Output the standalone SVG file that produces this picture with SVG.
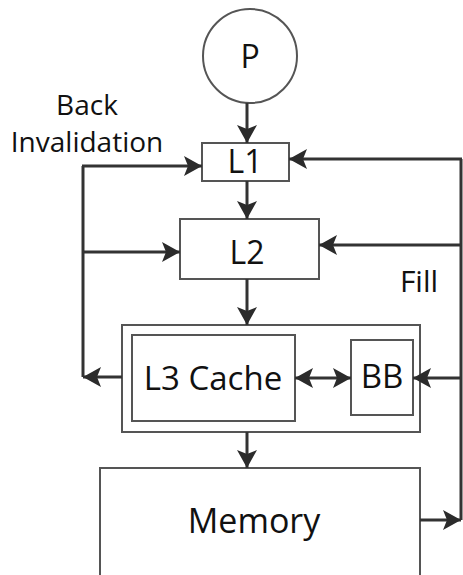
<svg xmlns="http://www.w3.org/2000/svg" width="463" height="575" viewBox="0 0 463 575">
<defs>
<marker id="ah" markerUnits="userSpaceOnUse" markerWidth="22" markerHeight="22" refX="18" refY="10" orient="auto-start-reverse">
<path d="M0,0 L18,10 L0,20 L4,10 z" fill="#2b2b2b"/>
</marker>
</defs>
<style>
.box{fill:#fff;stroke:#555;stroke-width:2}
.t{font-family:"Open Sans","Liberation Sans",sans-serif;fill:#111;text-anchor:middle}
.c{fill:none;stroke:#333;stroke-width:3}
.a{marker-end:url(#ah)}
</style>
<rect width="463" height="575" fill="#fff"/>
<g id="P"><circle class="box" cx="250" cy="56" r="47"/><text class="t" x="250" y="68" font-size="32">P</text></g>
<g id="L1"><rect class="box" x="202" y="143" width="87" height="38"/><text class="t" x="245" y="173" font-size="32">L1</text></g>
<g id="L2"><rect class="box" x="180" y="219" width="139" height="60"/><text class="t" x="247" y="264" font-size="32">L2</text></g>
<g id="L3group"><rect class="box" x="122" y="325" width="298" height="107"/></g>
<g id="L3"><rect class="box" x="132" y="335" width="163" height="86"/><text class="t" x="213" y="390" font-size="33">L3 Cache</text></g>
<g id="BB"><rect class="box" x="351" y="340" width="62" height="75"/><text class="t" x="382" y="388" font-size="33">BB</text></g>
<g id="Memory"><rect class="box" x="100" y="468" width="320" height="120"/><text class="t" x="254" y="533" font-size="34">Memory</text></g>
<g id="labels">
<text class="t" x="87" y="115" font-size="28">Back</text>
<text class="t" x="87" y="152" font-size="28">Invalidation</text>
<text class="t" x="419" y="292" font-size="30">Fill</text>
</g>
<g id="connectors">
<line class="c a" x1="247" y1="103" x2="247" y2="143"/>
<line class="c a" x1="247" y1="181" x2="247" y2="219"/>
<line class="c a" x1="247" y1="279" x2="247" y2="325"/>
<line class="c a" x1="247" y1="432" x2="247" y2="468"/>
<polyline class="c" points="83,166 83,377"/>
<line class="c a" x1="82" y1="166" x2="202" y2="166"/>
<line class="c a" x1="83" y1="252" x2="180" y2="252"/>
<line class="c a" x1="122" y1="377" x2="83" y2="377"/>
<polyline class="c" points="461,159 461,520"/>
<line class="c a" x1="462" y1="159" x2="289" y2="159"/>
<line class="c a" x1="461" y1="245" x2="319" y2="245"/>
<line class="c a" x1="461" y1="378" x2="413" y2="378"/>
<line class="c a" x1="420" y1="520" x2="461" y2="520"/>
<line class="c a" x1="295" y1="378" x2="351" y2="378" style="marker-start:url(#ah)"/>
</g>
</svg>
